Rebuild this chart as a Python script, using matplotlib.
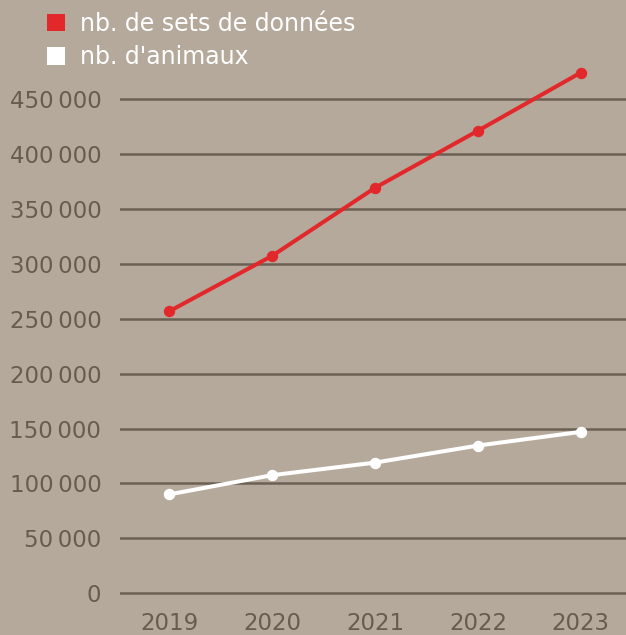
import matplotlib
matplotlib.use("Agg")
import matplotlib.pyplot as plt
from matplotlib.patches import Patch
from matplotlib.ticker import FuncFormatter

# data
years = [2019, 2020, 2021, 2022, 2023]
datasets = [257000, 307500, 369500, 421500, 474500]
animals = [90000, 107500, 119000, 134500, 147000]
labels = ["nb. de sets de données", "nb. d'animaux"]

bg = "#b5a99c"
grid_col = "#6b6153"
text_col = "#675d4f"
red = "#e2282b"
white = "#ffffff"

plt.rcParams['font.family'] = ['DejaVu Sans']

fig = plt.figure(figsize=(6.26, 6.35), dpi=100, facecolor=bg)
W, H = 626, 635
# axes box in pixels: left 120, right 626, top 60, bottom 598.6
ax = fig.add_axes([120 / W, 1 - 598.6 / H, (626 - 120) / W, (598.6 - 60) / H])
ax.set_facecolor(bg)

ax.plot(years, datasets, color=red, lw=2.9, marker="o", ms=7.2,
        solid_capstyle="round", clip_on=False, zorder=3)
ax.plot(years, animals, color=white, lw=2.9, marker="o", ms=7.2,
        solid_capstyle="round", clip_on=False, zorder=3)

ax.set_xlim(2018.52, 2023.44)
ax.set_ylim(-5000, 486000)
ax.set_xticks(years)
ax.set_yticks(range(0, 450001, 50000))
ax.yaxis.set_major_formatter(FuncFormatter(
    lambda v, p: "0" if v == 0 else f"{int(v):,}".replace(",", "\u202f")))

ax.grid(axis="y", color=grid_col, lw=1.8)
ax.grid(axis="x", visible=False)
ax.set_axisbelow(True)
for s in ax.spines.values():
    s.set_visible(False)
ax.tick_params(axis="y", length=0, pad=13.5, labelsize=16.5, labelcolor=text_col)
ax.tick_params(axis="x", length=0, pad=9.5, labelsize=16.5, labelcolor=text_col)

handles = [Patch(facecolor=red, edgecolor="none"),
           Patch(facecolor=white, edgecolor="none")]
leg = fig.legend(handles, labels, loc="upper left",
                 bbox_to_anchor=(28 / W, 1 + 7 / H), frameon=False,
                 fontsize=17, handlelength=0.75, handleheight=0.75,
                 handletextpad=0.65, labelspacing=0.4, borderpad=0.3)
for t in leg.get_texts():
    t.set_color(white)

fig.savefig("out.png", dpi=100, facecolor=bg)
